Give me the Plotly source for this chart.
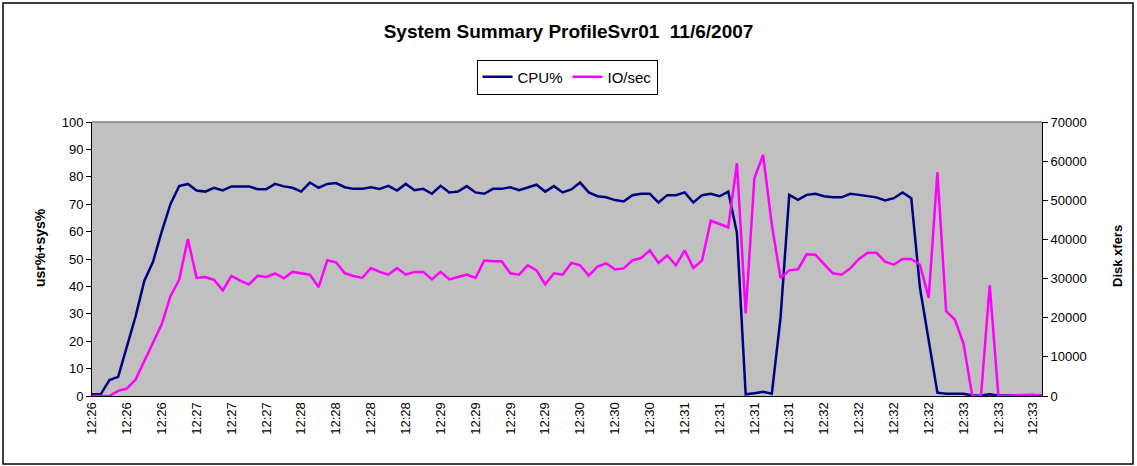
import plotly.graph_objects as go

# ---- data ----
tick_labels = ["12:26", "12:26", "12:26", "12:27", "12:27", "12:27",
               "12:28", "12:28", "12:28", "12:28", "12:29", "12:29",
               "12:29", "12:29", "12:30", "12:30", "12:30", "12:31",
               "12:31", "12:31", "12:31", "12:32", "12:32", "12:32",
               "12:32", "12:33", "12:33", "12:33"]
tick_every = 4

cpu_pct = [0.6, 0.6, 5.8, 7.0, 18, 29, 42, 49, 60, 70,
           76.6, 77.4, 75.0, 74.6, 76.0, 75.0, 76.5, 76.5, 76.5, 75.5,
           75.5, 77.4, 76.5, 76.0, 74.6, 77.9, 76.0, 77.4,
           77.7, 76.2, 75.6, 75.6, 76.2, 75.6, 76.7, 75.0, 77.4, 75.1,
           75.6, 73.8, 76.7, 74.3, 74.6, 76.6, 74.3, 73.8, 75.6, 75.6,
           76.2, 75.1, 76.1, 77.1, 74.6, 76.6, 74.3, 75.4,
           77.9, 74.3, 72.9, 72.5, 71.5, 71.0, 73.3, 73.8, 73.8, 70.6,
           73.3, 73.3, 74.3, 70.6, 73.3, 73.8, 72.9, 74.6, 59.5, 0.6,
           1.0, 1.5, 0.8, 28.5, 73.4, 71.6,
           73.4, 73.8, 72.9, 72.5, 72.5, 73.8, 73.4, 72.9, 72.5, 71.4,
           72.2, 74.3, 72.2, 39.4, 20.0, 1.2, 0.8, 0.8, 0.8, 0.2,
           0.2, 0.6, 0.2, 0.2, 0.2, 0.2, 0.2, 0.2]

io_sec = [0, 0, 0, 1300, 1900, 4200, 8900, 14000, 18300, 25500,
          29700, 40100, 30200, 30400, 29700, 27000, 30700, 29500, 28500, 30700,
          30400, 31300, 30100, 31700, 31400, 31000, 27800, 34700,
          34150, 31350, 30650, 30150, 32700, 31700, 31000, 32700, 31000, 31700,
          31700, 29800, 31700, 29800, 30400, 31000, 30150, 34600, 34400, 34400,
          31350, 31000, 33400, 32100, 28500, 31350, 31000, 34000,
          33400, 30750, 33050, 33900, 32350, 32600, 34650, 35250, 37200, 34000,
          35900, 33400, 37200, 32700, 34650, 44770, 43940, 43070, 59460, 21070,
          55640, 61590, 43750, 30160, 32100, 32370,
          36200, 36100, 33700, 31350, 31000, 32600, 35000, 36600, 36600, 34300,
          33550, 35000, 35000, 33550, 25060, 57170, 21660, 19540, 13340, 0,
          0, 28290, 0, 0, 200, 300, 300, 0]

x = list(range(len(cpu_pct)))
tickvals = [i * tick_every for i in range(len(tick_labels))]

FONT = "Liberation Sans, Arial, sans-serif"
W, H = 1137, 466
L, R, T, B = 92, 1042, 122, 396  # plot area in px

fig = go.Figure()
fig.add_trace(go.Scatter(x=x, y=cpu_pct, name="CPU%", mode="lines",
                         line=dict(color="#000080", width=2.5), yaxis="y"))
fig.add_trace(go.Scatter(x=x, y=io_sec, name="IO/sec", mode="lines",
                         line=dict(color="#FF00FF", width=2.5), yaxis="y2"))

pw = R - L
ph = B - T

def px(xp):
    return (xp - L) / pw

def py(yp):
    return (B - yp) / ph

fig.update_layout(
    width=W, height=H,
    margin=dict(l=L, r=W - R, t=T, b=H - B, pad=0),
    paper_bgcolor="white",
    plot_bgcolor="#C0C0C0",
    font=dict(family=FONT, size=12, color="black"),
    title=dict(text="<b>System Summary ProfileSvr01  11/6/2007</b>",
               x=0.5, xanchor="center", y=1 - 31 / H, yanchor="middle",
               font=dict(family=FONT, size=19, color="black")),
    showlegend=True,
    legend=dict(orientation="h", x=px(567), xanchor="center",
                y=py(77), yanchor="middle",
                bgcolor="white", bordercolor="black", borderwidth=1,
                font=dict(family=FONT, size=15, color="black"),
                itemwidth=30, tracegroupgap=0),
    xaxis=dict(range=[0, len(cpu_pct) - 1], tickmode="array",
               tickvals=tickvals, ticktext=tick_labels, tickangle=-90,
               showgrid=False, zeroline=False, showline=True,
               linecolor="black", linewidth=1, ticks="",
               tickfont=dict(family=FONT, size=13, color="black")),
    yaxis=dict(range=[0, 100], dtick=10, showgrid=False, zeroline=False,
               showline=True, linecolor="black", linewidth=1,
               ticks="outside", ticklen=5, tickcolor="black",
               tickfont=dict(family=FONT, size=13, color="black")),
    yaxis2=dict(range=[0, 70000], dtick=10000, overlaying="y", side="right",
                showgrid=False, zeroline=False, showline=True,
                linecolor="black", linewidth=1, tickformat="d",
                ticks="outside", ticklen=5, tickcolor="black",
                tickfont=dict(family=FONT, size=13, color="black")),
    annotations=[
        dict(text="<b>usr%+sys%</b>", textangle=-90, xref="paper", yref="paper",
             x=px(40), y=py(248), xanchor="center", yanchor="middle",
             showarrow=False, font=dict(family=FONT, size=14, color="black")),
        dict(text="<b>Disk xfers</b>", textangle=-90, xref="paper", yref="paper",
             x=px(1117), y=py(256), xanchor="center", yanchor="middle",
             showarrow=False, font=dict(family=FONT, size=13, color="black")),
    ],
    shapes=[
        # top edge of the plot area (grey)
        dict(type="line", xref="paper", yref="paper", x0=0, x1=1, y0=1, y1=1,
             line=dict(color="#808080", width=1.5)),
        # outer chart border
        dict(type="rect", xref="paper", yref="paper",
             x0=px(3), x1=px(1133), y0=py(464), y1=py(3),
             line=dict(color="black", width=1.5), layer="below"),
    ],
)

fig.write_html("out.html",
               config={"displayModeBar": False},
               post_script="document.body.style.margin='0';"
                           "document.body.style.padding='0';"
                           "document.body.style.overflow='hidden';")
